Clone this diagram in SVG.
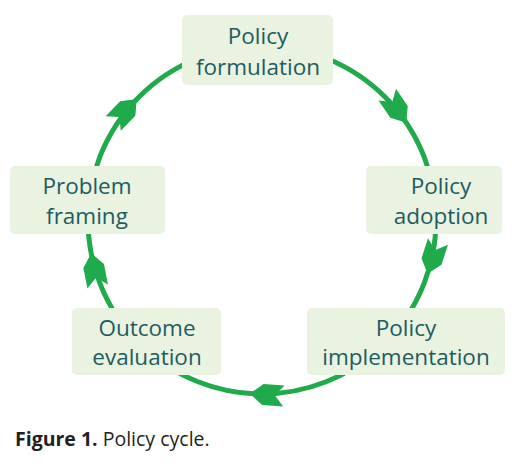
<svg xmlns="http://www.w3.org/2000/svg" width="531" height="466" viewBox="0 0 531 466">
<defs>
<style>
.box{fill:#e9f3e0;}
.lbl{font-family:"Open Sans","Noto Sans",sans-serif;font-size:22.5px;fill:#1d5c62;text-anchor:middle;}
.ring{fill:none;stroke:#1fab4b;stroke-width:5;}
.head{fill:#1fab4b;}
.cap{font-family:"Open Sans","Noto Sans",sans-serif;font-size:19.5px;fill:#231f20;}
</style>
<polygon id="ah" points="0,0 -13,-10.5 -34,-10.5 -25,0 -34,10.5 -13,10.5"/>
</defs>
<rect width="531" height="466" fill="#ffffff"/>
<g id="connectors">
<circle class="ring" cx="262" cy="220" r="174"/>
<use href="#ah" class="head" transform="translate(406.3,122.7) rotate(56)"/>
<use href="#ah" class="head" transform="translate(427.5,273.8) rotate(108)"/>
<use href="#ah" class="head" transform="translate(249.9,393.6) rotate(184)"/>
<use href="#ah" class="head" transform="translate(91.2,253.2) rotate(259)"/>
<use href="#ah" class="head" transform="translate(136.8,99.1) rotate(314)"/>
</g>
<g id="policy-formulation">
<rect class="box" x="182" y="15" width="151" height="70" rx="5"/>
<text class="lbl" x="258" y="44">Policy</text>
<text class="lbl" x="258" y="75">formulation</text>
</g>
<g id="policy-adoption">
<rect class="box" x="366" y="166" width="136" height="68" rx="5"/>
<text class="lbl" x="441" y="194">Policy</text>
<text class="lbl" x="441" y="224">adoption</text>
</g>
<g id="policy-implementation">
<rect class="box" x="307" y="308" width="198" height="67" rx="5"/>
<text class="lbl" x="406" y="336">Policy</text>
<text class="lbl" x="406" y="365">implementation</text>
</g>
<g id="outcome-evaluation">
<rect class="box" x="72" y="308" width="149" height="67" rx="5"/>
<text class="lbl" x="147" y="336">Outcome</text>
<text class="lbl" x="147" y="365">evaluation</text>
</g>
<g id="problem-framing">
<rect class="box" x="10" y="166" width="155" height="68" rx="5"/>
<text class="lbl" x="87" y="194">Problem</text>
<text class="lbl" x="87" y="224">framing</text>
</g>
<text class="cap" x="15" y="446"><tspan font-weight="bold">Figure 1.</tspan> Policy cycle.</text>
</svg>
